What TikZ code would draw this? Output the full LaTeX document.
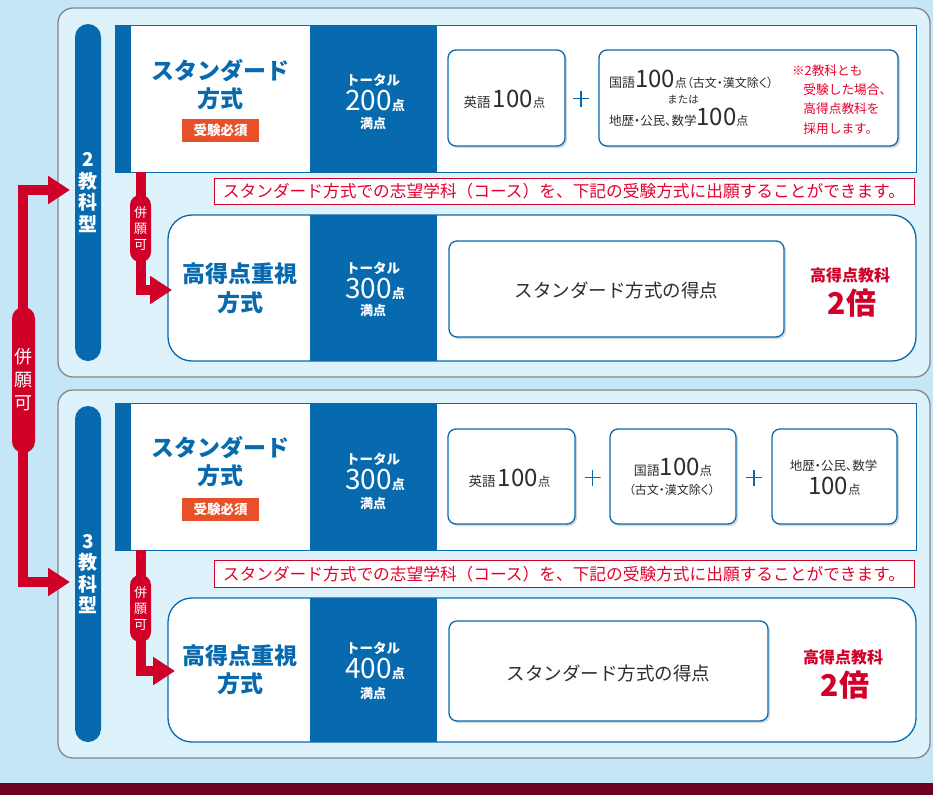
\documentclass[tikz,border=0pt]{standalone}
\usepackage{fontspec}
\setmainfont{Noto Sans CJK JP}
\newfontfamily\jpp{Noto Sans CJK JP}[RawFeature={+palt}]
\usetikzlibrary{arrows.meta,shadows}
\definecolor{bgblue}{RGB}{196,230,247}
\definecolor{panelfill}{RGB}{221,242,251}
\definecolor{mainblue}{RGB}{8,106,174}
\definecolor{mainred}{RGB}{208,0,40}
\definecolor{notered}{RGB}{228,0,45}
\definecolor{badgeorange}{RGB}{232,80,42}
\definecolor{darkbar}{RGB}{108,0,30}
\definecolor{panelgray}{RGB}{135,135,135}
\definecolor{txt}{RGB}{45,45,45}
\newcommand\fs[2]{\fontsize{#1}{#2}\selectfont}
\begin{document}
\begin{tikzpicture}[x=1pt,y=-1pt,
  every node/.style={inner sep=0pt, outer sep=0pt},
  panel/.style={draw=panelgray, line width=1.3pt, fill=panelfill, rounded corners=15pt},
  bluepill/.style={fill=mainblue, rounded corners=13pt, text=white, font=\bfseries\fs{19}{21.5}, align=center},
  redpill/.style={fill=mainred, text=white, align=center},
  stdbox/.style={draw=mainblue, fill=white, line width=1pt},
  scorebox/.style={draw=mainblue, fill=white, line width=1.3pt, rounded corners=8pt,
     drop shadow={opacity=0.3, shadow xshift=2pt, shadow yshift=-2pt}},
  highbox/.style={draw=mainblue, fill=white, line width=1.3pt, rounded corners=24pt},
  notice/.style={draw=mainred, fill=white, line width=0.8pt},
  noticetext/.style={text=notered, font=\fs{16.7}{18}},
  title/.style={text=mainblue, font=\bfseries\fs{23}{28}},
  badgebox/.style={fill=badgeorange, text=white, font=\bfseries\fs{13.5}{16}, minimum width=77pt, minimum height=23pt},
  tot/.style={text=white, font=\bfseries\fs{13.5}{16}},
  totnum/.style={text=white, font=\fs{28}{30}},
  sc/.style={text=txt},
  red2/.style={text=mainred, font=\bfseries},
  plussign/.style={minimum size=16pt, path picture={
     \draw[mainblue, line width=1.8pt] (path picture bounding box.north) -- (path picture bounding box.south)
       (path picture bounding box.west) -- (path picture bounding box.east);}},
  rline/.style={draw=mainred, line width=10pt, line join=miter},
  rarrow/.style={draw=mainred, line width=10pt, line join=miter, -{Triangle[length=22pt,width=27pt]}},
]
% background
\fill[bgblue] (0,0) rectangle (933,795);
\fill[darkbar] (0,783) rectangle (933,795);
\useasboundingbox (0,0) rectangle (933,795);

% panels
\node[panel, minimum width=872pt, minimum height=369pt] (panel1) at (494,192.5) {};
\node[panel, minimum width=872pt, minimum height=368pt] (panel2) at (494,574) {};

% blue pills
\node[bluepill, minimum width=26pt, minimum height=337pt] (p2) at (88,192.5) {2\\教\\科\\型};
\node[bluepill, minimum width=26pt, minimum height=336pt] (p3) at (88,574) {3\\教\\科\\型};

% ===== panel 1 =====
\node[stdbox, minimum width=801pt, minimum height=147pt] (std1) at (515.5,98.5) {};
\fill[mainblue] (115,25) rectangle (131,172);
\fill[mainblue] (310,25) rectangle (437,172);
\node[title] (t1a) at (220,71) {スタンダード};
\node[title] (t1b) at (220,99) {方式};
\node[badgebox] (b1) at (220.5,130) {受験必須};
\node[tot] (tot1a) at (373,80) {トータル};
\node[totnum] (tot1b) at (375,101) {200{\fs{13}{14}\bfseries 点}};
\node[tot, font=\bfseries\fs{13}{15}] (tot1c) at (373,124) {満点};

\node[scorebox, minimum width=117pt, minimum height=96pt] (s1a) at (506.5,98) {};
\node[sc, anchor=base] (s1at) at (504.5,107.5) {{\fs{13.5}{14}英語} {\fs{24}{24}100}{\fs{12.5}{14}点}};
\node[plussign] (pl1) at (581,98.5) {};
\node[scorebox, minimum width=299pt, minimum height=96pt] (s1b) at (748.5,98) {};
\node[sc, anchor=base west] (s1b1) at (609,87) {{\fs{13}{14}国語}{\fs{24}{24}100}{\jpp\fs{12}{14}点（古文・漢文除く）}};
\node[sc, font=\fs{10.5}{12}] (s1b2) at (683,99.5) {または};
\node[sc, anchor=base west] (s1b3) at (609,125) {{\jpp\fs{12.5}{14}地歴・公民、数学}{\fs{24}{24}100}{\fs{12}{14}点}};
\node[anchor=west, text=notered, align=left, font=\fs{12.7}{19.3}] (note1) at (792,99.5)
  {※2教科とも\\\hspace*{0.9em}受験した場合、\\\hspace*{0.9em}高得点教科を\\\hspace*{0.9em}採用します。};

\node[notice, minimum width=700pt, minimum height=26pt] (n1) at (564,191) {};
\node[noticetext] (n1t) at (564,191) {スタンダード方式での志望学科（コース）を、下記の受験方式に出願することができます。};

\node[highbox, minimum width=748pt, minimum height=146pt] (h1) at (542,288) {};
\fill[mainblue] (310,215) rectangle (437,361);
\node[title] (h1a) at (240,274) {高得点重視};
\node[title] (h1b) at (240,303) {方式};
\node[tot] (h1ta) at (373,268) {トータル};
\node[totnum] (h1tb) at (375,289) {300{\fs{13}{14}\bfseries 点}};
\node[tot, font=\bfseries\fs{13}{15}] (h1tc) at (373,311) {満点};
\node[scorebox, minimum width=335pt, minimum height=96pt] (h1s) at (616.5,289) {};
\node[sc, font=\fs{18.5}{20}] (h1st) at (616.5,290) {スタンダード方式の得点};
\node[red2, font=\bfseries\fs{16}{18}] (h1r1) at (850,275) {高得点教科};
\node[red2, font=\bfseries\fs{30}{32}] (h1r2) at (852,303) {2倍};

% ===== panel 2 =====
\node[stdbox, minimum width=801pt, minimum height=147pt] (std2) at (515.5,476.5) {};
\fill[mainblue] (115,403) rectangle (131,550);
\fill[mainblue] (310,403) rectangle (437,550);
\node[title] (t2a) at (220,448) {スタンダード};
\node[title] (t2b) at (220,476) {方式};
\node[badgebox] (b2) at (220.5,509.5) {受験必須};
\node[tot] (tot2a) at (373,459) {トータル};
\node[totnum] (tot2b) at (375,480) {300{\fs{13}{14}\bfseries 点}};
\node[tot, font=\bfseries\fs{13}{15}] (tot2c) at (373,503.5) {満点};

\node[scorebox, minimum width=127pt, minimum height=95pt] (s2a) at (511.5,476.5) {};
\node[sc, anchor=base] (s2at) at (509.5,486) {{\fs{13.5}{14}英語} {\fs{24}{24}100}{\fs{12.5}{14}点}};
\node[plussign] (pl2) at (592.5,477.5) {};
\node[scorebox, minimum width=126pt, minimum height=95pt] (s2b) at (673,476.5) {};
\node[sc, anchor=base] (s2b1) at (673,475) {{\fs{13}{14}国語}{\fs{24}{24}100}{\fs{12.5}{14}点}};
\node[sc, font=\jpp\fs{12}{13}] (s2b2) at (672,490) {（古文・漢文除く）};
\node[plussign] (pl3) at (754,477.5) {};
\node[scorebox, minimum width=125pt, minimum height=95pt] (s2c) at (834.5,476.5) {};
\node[sc, font=\jpp\fs{12.5}{13}] (s2c1) at (833.5,466) {地歴・公民、数学};
\node[sc, anchor=base] (s2c2) at (834.5,494) {{\fs{24}{24}100}{\fs{12.5}{14}点}};

\node[notice, minimum width=700pt, minimum height=27pt] (n2) at (564,574) {};
\node[noticetext] (n2t) at (564,574) {スタンダード方式での志望学科（コース）を、下記の受験方式に出願することができます。};

\node[highbox, minimum width=748pt, minimum height=144pt] (h2) at (542,670) {};
\fill[mainblue] (310,598) rectangle (437,742);
\node[title] (h2a) at (240,656) {高得点重視};
\node[title] (h2b) at (240,684) {方式};
\node[tot] (h2ta) at (373,648) {トータル};
\node[totnum] (h2tb) at (375,669) {400{\fs{13}{14}\bfseries 点}};
\node[tot, font=\bfseries\fs{13}{15}] (h2tc) at (373,694) {満点};
\node[scorebox, minimum width=319pt, minimum height=100pt] (h2s) at (608.5,671) {};
\node[sc, font=\fs{18.5}{20}] (h2st) at (608.5,673) {スタンダード方式の得点};
\node[red2, font=\bfseries\fs{16}{18}] (h2r1) at (843,657) {高得点教科};
\node[red2, font=\bfseries\fs{30}{32}] (h2r2) at (845,685) {2倍};

% ===== connectors =====
\coordinate (c1a) at (141,172);
\coordinate (c1b) at (172,290);
\draw[rarrow] (c1a) |- (c1b);
\node[redpill, rounded corners=10pt, minimum width=21pt, minimum height=67pt, font=\fs{13}{16}] (rp1) at (140.5,228.5) {併\\願\\可};

\coordinate (c2a) at (141,550);
\coordinate (c2b) at (175,671);
\draw[rarrow] (c2a) |- (c2b);
\node[redpill, rounded corners=10pt, minimum width=21pt, minimum height=67pt, font=\fs{13}{16}] (rp2) at (140.5,608.5) {併\\願\\可};

\coordinate (L2) at (70,190);
\coordinate (L3) at (70,582);
\coordinate (LB) at (23,386);
\draw[rline, {Triangle[length=22pt,width=27pt]}-{Triangle[length=22pt,width=27pt]}] (L2) -| (LB) |- (L3);
\node[redpill, rounded corners=11.5pt, minimum width=23pt, minimum height=146pt, font=\fs{18}{23}] (rpbig) at (23.5,380) {併\\願\\可};
\end{tikzpicture}
\end{document}
